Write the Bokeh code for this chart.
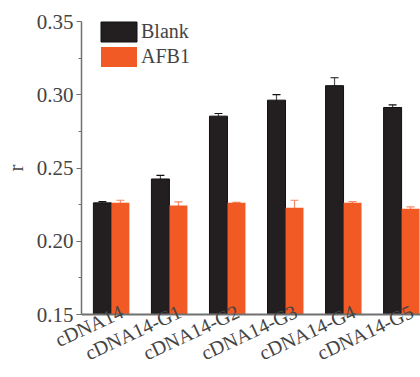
import math
from bokeh.plotting import figure
from bokeh.models import (ColumnDataSource, Range1d, FixedTicker, Whisker, TeeHead,
                          Legend, LegendItem)
from bokeh.embed import file_html
from bokeh.resources import INLINE

categories = ["cDNA14", "cDNA14-G1", "cDNA14-G2", "cDNA14-G3", "cDNA14-G4", "cDNA14-G5"]
blank = [0.2262, 0.2425, 0.2854, 0.2963, 0.3062, 0.2913]
blank_err = [0.0008, 0.0024, 0.0018, 0.0038, 0.0054, 0.0018]
afb1 = [0.2262, 0.2244, 0.2262, 0.2228, 0.2262, 0.2221]
afb1_err = [0.0018, 0.0025, 0.0003, 0.0052, 0.0009, 0.0013]
y_ticks = [0.15, 0.20, 0.25, 0.30, 0.35]
y_tick_labels = ["0.15", "0.20", "0.25", "0.30", "0.35"]

BLACK = "#231F20"
ORANGE = "#F15A24"
FONT = "'Liberation Serif', 'Times New Roman', serif"

idx = list(range(len(categories)))
off = 0.155
bw = 0.31

src_b = ColumnDataSource(dict(x=[i - off for i in idx], top=blank,
                              up=[v + e for v, e in zip(blank, blank_err)],
                              lo=[v - e for v, e in zip(blank, blank_err)]))
src_a = ColumnDataSource(dict(x=[i + off for i in idx], top=afb1,
                              up=[v + e for v, e in zip(afb1, afb1_err)],
                              lo=[v - e for v, e in zip(afb1, afb1_err)]))

p = figure(width=420, height=377, output_backend="svg", toolbar_location=None,
           x_range=Range1d(-0.515, 5.326), y_range=Range1d(0.15, 0.35),
           min_border_left=80, min_border_right=0, min_border_top=21, min_border_bottom=61)
p.outline_line_color = None
p.xgrid.visible = False
p.ygrid.visible = False
p.background_fill_color = "white"
p.border_fill_color = "white"

rb = p.vbar(x="x", top="top", bottom=0.15, width=bw, source=src_b,
            fill_color=BLACK, line_color="#111111", line_width=1)
ra = p.vbar(x="x", top="top", bottom=0.15, width=bw, source=src_a,
            fill_color=ORANGE, line_color=None)

wb = Whisker(base="x", upper="up", lower="lo", source=src_b, line_color="#555555", line_width=1.2,
             upper_head=TeeHead(size=8, line_color="#111111", line_width=1.2),
             lower_head=TeeHead(size=8, line_color="#111111", line_width=1.2))
wa = Whisker(base="x", upper="up", lower="lo", source=src_a, line_color="#F4876A", line_width=1.2,
             upper_head=TeeHead(size=8, line_color="#F4876A", line_width=1.2),
             lower_head=TeeHead(size=8, line_color="#F4876A", line_width=1.2))
p.add_layout(wb)
p.add_layout(wa)

AX = "#707070"
# y axis
p.yaxis.ticker = FixedTicker(ticks=y_ticks,
                             minor_ticks=[0.175, 0.225, 0.275, 0.325])
p.yaxis.major_label_overrides = {t: l for t, l in zip(y_ticks, y_tick_labels)}
p.yaxis.axis_label = "r"
p.yaxis.axis_label_text_font = FONT
p.yaxis.axis_label_text_font_style = "normal"
p.yaxis.axis_label_text_font_size = "21px"
p.yaxis.axis_label_standoff = 6
p.yaxis.major_label_text_font = FONT
p.yaxis.major_label_text_font_size = "21px"
p.yaxis.major_label_standoff = 3
p.yaxis.axis_line_color = AX
p.yaxis.axis_line_width = 1.5
p.yaxis.major_tick_line_color = AX
p.yaxis.minor_tick_line_color = AX
p.yaxis.major_tick_out = 5
p.yaxis.major_tick_in = 0
p.yaxis.minor_tick_out = 3
p.yaxis.minor_tick_in = 0

# x axis
p.xaxis.ticker = FixedTicker(ticks=[i + 0.18 for i in idx], minor_ticks=[])
p.xaxis.major_label_overrides = {i + 0.18: c for i, c in zip(idx, categories)}
p.xaxis.major_label_orientation = math.radians(25)
p.xaxis.major_label_text_font = FONT
p.xaxis.major_label_text_font_size = "20px"
p.xaxis.major_label_standoff = -4
p.xaxis.major_tick_line_color = None
p.xaxis.minor_tick_line_color = None
p.xaxis.major_tick_out = 0
p.xaxis.major_tick_in = 0
p.xaxis.axis_line_color = AX
p.xaxis.axis_line_width = 2

legend = Legend(items=[LegendItem(label="Blank", renderers=[rb]),
                       LegendItem(label="AFB1", renderers=[ra])],
                location=(15, 245), orientation="vertical",
                glyph_width=45, glyph_height=25, label_height=25, spacing=0,
                padding=0, margin=0, label_standoff=0,
                border_line_color=None, background_fill_alpha=0,
                label_text_font=FONT, label_text_font_size="20px")
p.add_layout(legend)

open("out.html", "w").write(file_html(p, INLINE))
